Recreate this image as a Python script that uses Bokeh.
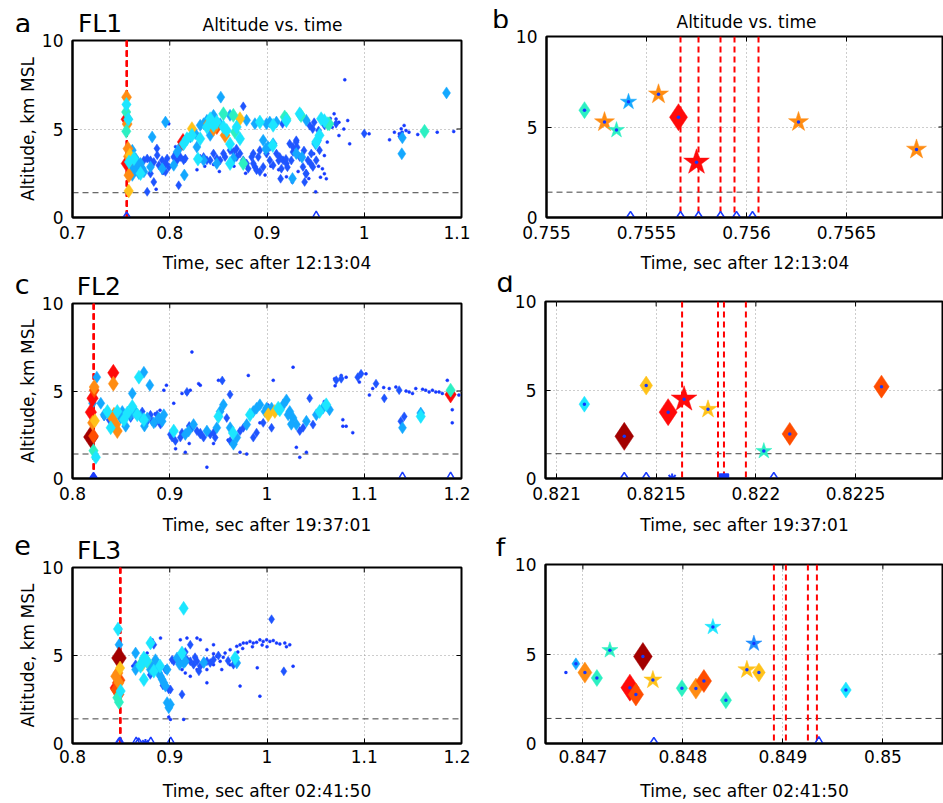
from bokeh.plotting import figure
from bokeh.models import Range1d, FixedTicker, Span, ColumnDataSource
from bokeh.layouts import column, row
from bokeh.core.properties import field, value
from bokeh.embed import file_html
from bokeh.resources import INLINE

FONT = "DejaVu Sans"
TICK_FS = "17px"

# ---------------- ticks ----------------
y_ticks = [0, 5, 10]
y_tick_labels = ["0", "5", "10"]
a_xticks = [0.7, 0.8, 0.9, 1.0, 1.1]
a_xlabels = ["0.7", "0.8", "0.9", "1", "1.1"]
ce_xticks = [0.8, 0.9, 1.0, 1.1, 1.2]
ce_xlabels = ["0.8", "0.9", "1", "1.1", "1.2"]
b_xticks = [0.755, 0.7555, 0.756, 0.7565]
b_xlabels = ["0.755", "0.7555", "0.756", "0.7565"]
d_xticks = [0.821, 0.8215, 0.822, 0.8225]
d_xlabels = ["0.821", "0.8215", "0.822", "0.8225"]
f_xticks = [0.847, 0.848, 0.849, 0.85]
f_xlabels = ["0.847", "0.848", "0.849", "0.85"]

ground_alt_km = 1.4

# ---------------- panel a (FL1 overview) ----------------
a_dot_x = [0.969, 0.971, 0.974, 0.979, 0.983, 0.985, 0.957, 0.959, 0.961, 0.955, 0.959, 0.962, 0.974, 1.005, 1.026, 1.031, 1.036, 1.038, 1.039, 1.041, 1.043, 1.046, 1.055, 1.075, 1.092, 0.980, 0.950, 0.797, 0.801, 0.805, 0.793, 0.786, 0.812, 0.836, 0.851, 0.866, 0.878, 0.898, 0.904, 0.912, 0.920, 0.926, 0.932, 0.943, 0.948, 0.953, 0.965, 0.967, 0.799, 0.806, 0.828, 0.845]
a_dot_y = [5.86, 5.57, 5.38, 5.00, 5.48, 4.16, 2.75, 2.47, 2.19, 2.28, 3.50, 4.26, 4.63, 4.73, 4.39, 4.82, 4.73, 5.01, 4.82, 5.20, 4.91, 4.82, 4.69, 4.82, 4.86, 7.78, 1.45, 3.00, 2.90, 3.60, 2.50, 1.60, 3.90, 2.90, 2.60, 2.90, 2.50, 2.40, 2.90, 2.70, 2.30, 2.00, 2.60, 2.20, 3.60, 2.90, 5.60, 5.10, 5.30, 4.00, 2.70, 3.00]
a_blue_x = [0.7734, 0.7768, 0.7802, 0.7836, 0.7871, 0.7888, 0.7922, 0.7956, 0.7973, 0.7990, 0.8041, 0.8075, 0.7768, 0.7836, 0.7802, 0.7956, 0.7868, 0.8109, 0.8143, 0.8160, 0.8313, 0.8348, 0.8382, 0.8416, 0.8518, 0.8569, 0.8654, 0.8688, 0.8722, 0.8756, 0.8790, 0.8807, 0.8842, 0.8859, 0.8876, 0.8893, 0.8927, 0.8961, 0.8995, 0.9029, 0.9097, 0.9131, 0.9165, 0.9199, 0.9233, 0.9267, 0.9336, 0.9370, 0.9387, 0.9404, 0.9421, 0.9455, 0.9472, 0.9506, 0.9540, 0.9591, 0.9710, 0.8756, 0.8552, 0.8620, 1.0000, 1.0375, 0.8092, 0.8859, 0.8910, 0.9063, 0.9148, 0.9267, 0.9301, 0.9029, 0.8927, 0.8686, 0.8450, 0.8484, 0.9485, 0.9195, 0.9250, 0.9300, 0.9380, 0.9400, 0.9450, 0.9530, 0.9470, 0.9440, 0.9160, 0.9140, 0.9120, 0.9210, 0.9310]
a_blue_y = [3.23, 3.33, 3.23, 3.14, 3.52, 2.95, 3.23, 3.05, 3.33, 2.86, 3.42, 3.23, 1.45, 2.01, 2.48, 2.58, 3.90, 3.42, 3.23, 3.33, 3.33, 3.42, 3.23, 3.23, 3.23, 3.42, 3.70, 3.42, 3.61, 3.23, 3.05, 2.76, 3.42, 3.61, 2.86, 2.67, 2.58, 2.86, 3.61, 3.98, 3.61, 3.42, 3.23, 3.05, 4.17, 3.98, 3.42, 2.86, 2.01, 2.48, 3.23, 3.61, 2.86, 3.23, 3.80, 5.21, 5.30, 6.28, 3.61, 3.80, 4.74, 4.59, 1.82, 3.05, 3.42, 2.95, 2.76, 3.70, 4.36, 3.23, 3.80, 3.89, 3.61, 3.33, 5.38, 3.31, 3.22, 4.26, 3.78, 2.47, 3.03, 4.91, 5.00, 5.19, 5.29, 2.19, 3.22, 2.84, 3.97]
a_lblue_x = [0.7615, 0.7666, 0.7683, 0.7700, 0.7717, 0.7649, 0.7802, 0.7819, 0.7922, 0.7956, 0.8041, 0.8075, 0.8109, 0.8211, 0.8262, 0.8279, 0.8313, 0.8348, 0.8382, 0.8450, 0.8518, 0.8525, 0.8620, 0.8790, 0.8876, 0.8961, 0.8995, 0.9029, 0.9063, 0.9097, 0.9301, 0.9359, 0.9404, 0.9500, 0.9520, 0.8484, 0.8654, 0.8416, 0.8348, 0.9262, 1.0392, 1.0386, 1.0846, 0.9010, 0.8150, 0.7632, 0.7666, 0.7734, 0.7598, 0.7615, 0.8988]
a_lblue_y = [3.80, 2.86, 2.48, 3.05, 2.76, 3.33, 2.86, 4.55, 2.76, 5.39, 2.95, 3.70, 4.00, 4.55, 4.74, 3.98, 5.21, 5.30, 5.49, 5.77, 5.30, 6.80, 5.77, 5.49, 5.30, 4.36, 5.30, 5.39, 4.17, 5.39, 3.61, 3.41, 5.49, 4.16, 4.35, 3.05, 3.33, 4.64, 3.23, 2.20, 4.50, 3.60, 7.04, 4.00, 2.40, 2.67, 3.14, 2.58, 3.00, 2.38, 3.87]
a_cyan_x = [0.7632, 0.7700, 0.8143, 0.8177, 0.8228, 0.8313, 0.8382, 0.8416, 0.8484, 0.8552, 0.8586, 0.8620, 0.8688, 0.8722, 0.8927, 0.9063, 0.9199, 0.9336, 0.9540, 0.9557, 0.9506, 0.8620, 0.8450, 0.9059, 0.7574, 0.7581, 0.7555, 0.8290, 0.9590]
a_cyan_y = [3.33, 2.48, 4.17, 4.45, 4.64, 4.45, 5.11, 5.58, 5.39, 5.11, 4.92, 3.05, 5.11, 4.45, 5.39, 5.21, 5.47, 5.86, 4.64, 5.58, 4.27, 4.15, 5.21, 4.07, 5.55, 3.14, 6.39, 3.30, 5.47]
a_aqua_x = [0.7552, 0.7553, 0.8552, 0.8654, 0.8671, 0.8756, 0.9182, 0.9350, 0.9200, 0.9625, 0.9640, 1.0620]
a_aqua_y = [5.96, 4.87, 5.86, 5.77, 4.83, 3.05, 5.68, 5.76, 5.57, 5.30, 5.29, 4.87]
a_yellow_x = [0.7578, 0.7590, 0.8228, 0.8722]
a_yellow_y = [1.50, 3.52, 5.02, 5.58]
a_orange_x = [0.7556, 0.7562, 0.7570, 0.7580, 0.7575, 0.8399, 0.8450, 0.8569]
a_orange_y = [6.80, 5.28, 3.89, 2.39, 3.45, 5.30, 5.02, 4.64]
a_redorange_x = [0.8484]
a_redorange_y = [5.11]
a_red_x = [0.7557, 0.7558, 0.8136]
a_red_y = [5.55, 3.05, 4.27]
a_bot_diamond = [0.7557]
a_bot_triangle = [0.9506]

# ---------------- panel b (FL1 zoom) ----------------
b_x = [0.75519, 0.75529, 0.75535, 0.75541, 0.75556, 0.75566, 0.75575, 0.75626, 0.75685]
b_y = [5.93, 5.27, 4.83, 6.39, 6.81, 5.54, 3.05, 5.28, 3.76]
b_shape = ["diamond", "star", "star", "star", "star", "diamond", "star", "star", "star"]
b_class = ["aqua", "orange", "aqua", "lblue", "orange", "red", "red", "orange", "orange"]
b_rs = [0.75567, 0.75576, 0.75587, 0.75594, 0.75606]
b_bot_diamond = [0.75542, 0.75567, 0.75576, 0.75587, 0.75595, 0.75603]

# ---------------- panel c (FL2 overview) ----------------
c_dot_x = [0.9228, 0.9501, 0.9808, 1.0268, 1.0064, 0.9314, 0.9297, 0.9211, 0.9126, 0.8966, 0.8939, 0.9041, 0.9177, 0.9382, 0.9927, 1.0780, 1.0882, 1.0695, 1.0763, 1.0814, 1.1018, 1.1087, 1.1257, 1.1325, 1.1462, 1.1496, 1.1530, 1.1632, 1.1667, 1.1701, 1.1735, 1.1769, 1.1803, 1.1854, 1.1905, 1.1905, 1.1973, 1.0302, 1.0337, 1.0405, 1.0814, 1.0780, 1.1053, 1.0950, 0.9348, 0.9791, 0.9723, 0.9160, 0.9060, 0.9200, 0.9450, 0.9600, 0.8900, 0.8850, 1.0010, 1.0590, 1.1430, 1.1600, 1.1200, 1.0700]
c_dot_y = [7.23, 5.61, 5.89, 6.36, 5.61, 5.33, 5.42, 5.05, 4.86, 5.33, 5.05, 4.30, 4.86, 0.65, 3.18, 2.99, 2.62, 5.70, 5.89, 5.79, 5.98, 5.14, 5.14, 5.23, 4.95, 4.86, 5.14, 5.05, 4.95, 5.05, 4.95, 4.95, 4.86, 5.61, 3.93, 3.18, 4.77, 1.78, 1.21, 1.50, 2.99, 3.36, 4.77, 5.51, 2.34, 1.40, 1.50, 1.50, 1.70, 2.00, 2.00, 2.20, 3.90, 3.70, 4.20, 4.40, 5.00, 5.10, 5.20, 5.30]
c_blue_x = [0.8325, 0.8376, 0.8598, 0.8717, 0.8802, 0.8870, 0.8853, 0.8819, 0.8905, 0.9007, 0.9024, 0.9058, 0.9109, 0.9228, 0.9280, 0.9314, 0.9416, 0.9450, 0.9586, 0.9723, 0.9757, 0.9961, 0.9893, 0.9859, 0.9655, 0.9621, 0.9467, 0.9348, 0.9314, 0.9126, 1.0337, 1.0371, 1.0439, 1.0473, 1.0047, 1.0712, 1.0763, 1.0933, 1.0967, 1.1121, 1.1206, 1.1359, 1.1376, 1.1411, 0.9177, 0.9620, 0.9540, 0.8290, 0.8760, 0.9200]
c_blue_y = [3.55, 3.36, 3.46, 3.83, 3.64, 3.64, 3.18, 3.27, 3.08, 2.52, 2.34, 2.15, 2.34, 2.90, 2.71, 2.52, 2.52, 2.62, 3.46, 2.71, 2.90, 3.18, 2.62, 2.34, 1.96, 2.15, 2.34, 2.34, 2.62, 2.62, 2.71, 2.90, 4.58, 3.08, 2.90, 5.61, 5.70, 5.79, 5.98, 5.42, 4.58, 5.05, 3.27, 3.55, 4.95, 4.80, 5.60, 4.30, 3.20, 3.00]
c_lblue_x = [0.8291, 0.8325, 0.8427, 0.8495, 0.8512, 0.8547, 0.8598, 0.8649, 0.8632, 0.8700, 0.8768, 0.8836, 0.8887, 0.8922, 0.8939, 0.8795, 0.8734, 0.8615, 0.9160, 0.9194, 0.9245, 0.9382, 0.9484, 0.9518, 0.9552, 0.9621, 0.9655, 0.9689, 0.9791, 0.9859, 0.9893, 0.9927, 0.9979, 0.9996, 1.0047, 1.0166, 1.0200, 1.0217, 1.0234, 1.0268, 1.0302, 1.0405, 1.0507, 1.0575, 1.0643, 1.0250, 1.1393, 1.1581, 0.8250, 0.8206, 0.8740]
c_lblue_y = [4.30, 3.64, 3.64, 3.46, 3.83, 2.99, 3.64, 3.74, 3.93, 3.55, 3.46, 3.18, 3.46, 3.27, 3.64, 5.33, 6.07, 4.86, 2.52, 2.71, 3.08, 2.71, 2.90, 3.83, 4.21, 2.90, 1.96, 2.34, 3.08, 3.83, 4.02, 4.21, 3.83, 4.02, 4.02, 4.21, 4.49, 3.64, 3.83, 3.46, 3.08, 3.27, 3.64, 4.02, 3.93, 3.10, 2.90, 3.74, 5.79, 4.30, 3.00]
c_cyan_x = [0.8359, 0.8393, 0.8461, 0.8529, 0.8564, 0.8615, 0.8666, 0.8683, 0.8734, 0.9041, 0.9501, 0.9825, 1.0115, 1.0132, 1.0541, 1.0609, 1.1581, 0.8240, 0.9650]
c_cyan_y = [3.83, 2.90, 3.83, 3.36, 3.74, 4.11, 3.64, 5.79, 3.36, 2.71, 3.55, 3.64, 4.02, 3.93, 3.83, 4.21, 3.55, 1.21, 2.60]
c_aqua_x = [0.8216, 1.1888]
c_aqua_y = [1.59, 5.05]
c_yellow_x = [1.0013, 1.0081, 0.8230]
c_yellow_y = [3.64, 3.83, 3.30]
c_orange_x = [0.8223, 0.8420, 0.8410, 0.8444, 0.8461, 0.8427, 0.8206]
c_orange_y = [5.23, 5.42, 3.46, 3.08, 2.71, 3.64, 3.18]
c_redorange_x = [0.8223, 0.8216]
c_redorange_y = [5.05, 2.43]
c_red_x = [0.8206, 0.8189, 0.8420, 1.1888]
c_red_y = [4.58, 3.79, 6.04, 4.80]
c_darkred_x = [0.8189]
c_darkred_y = [2.37]
c_bot_filled_diamond = [0.8216]
c_bot_triangle = [1.1393, 1.1888]

# ---------------- panel d (FL2 zoom) ----------------
d_x = [0.82114, 0.82134, 0.82145, 0.82156, 0.82164, 0.82176, 0.82204, 0.82217, 0.82263]
d_y = [4.20, 2.38, 5.25, 3.75, 4.48, 3.91, 1.55, 2.52, 5.19]
d_shape = ["diamond", "diamond", "diamond", "diamond", "star", "star", "star", "diamond", "diamond"]
d_class = ["cyan", "darkred", "yellow", "red", "red", "yellow", "aqua", "redorange", "redorange"]
d_rs = [0.82163, 0.82181, 0.82184, 0.82195]
d_bot_diamond = [0.82134, 0.82145, 0.82209]
d_bot_asterisk = [0.82158]
d_bot_square = [0.82184]

# ---------------- panel e (FL3 overview) ----------------
e_dot_x = [0.9382, 0.9450, 0.9484, 0.9518, 0.9569, 0.9621, 0.9689, 0.9723, 0.9757, 0.9791, 0.9825, 0.9859, 0.9893, 0.9927, 0.9961, 0.9996, 1.0030, 1.0064, 1.0098, 1.0132, 1.0183, 1.0234, 1.0268, 0.9723, 0.9927, 0.9450, 0.9535, 0.9314, 0.9280, 0.9177, 0.9109, 0.9655, 0.9621, 0.9382, 0.9160, 0.9382, 0.9280, 0.9126, 0.9211, 0.8905, 0.8819, 0.8768, 0.9007, 0.9143, 0.8990, 0.9850, 0.9750, 0.9950, 1.0000, 0.9550, 0.9450, 0.9700, 0.8620, 0.9900, 1.0200]
e_dot_y = [5.33, 5.61, 4.95, 4.67, 5.14, 5.33, 5.52, 5.61, 5.71, 5.71, 5.80, 5.71, 5.75, 5.89, 5.80, 5.89, 5.80, 5.85, 5.71, 5.66, 5.71, 5.61, 4.39, 3.26, 2.69, 4.48, 4.20, 5.89, 5.99, 5.99, 5.89, 4.76, 4.48, 3.45, 4.01, 4.20, 4.20, 4.20, 3.82, 5.99, 5.89, 5.14, 1.37, 1.37, 1.50, 5.50, 5.40, 5.60, 5.50, 4.90, 5.10, 5.20, 4.40, 4.30, 5.50]
e_blue_x = [0.8836, 0.8990, 0.9007, 0.9041, 0.9109, 0.9177, 0.9211, 0.9245, 0.9280, 0.9314, 0.9348, 0.9382, 0.9416, 0.9450, 0.9211, 0.9655, 1.0047, 1.0173, 0.9126, 0.8649, 0.8956, 0.9024, 0.9260, 0.9160, 0.8800, 0.8930, 0.9500, 0.9600, 0.9300]
e_blue_y = [5.61, 3.07, 3.07, 4.67, 4.58, 4.76, 4.67, 4.48, 4.67, 4.39, 4.58, 4.67, 4.58, 4.76, 5.61, 4.48, 7.06, 4.10, 2.79, 4.50, 4.20, 4.76, 4.90, 5.20, 3.90, 3.30, 5.00, 4.70, 4.10]
e_lblue_x = [0.8478, 0.8649, 0.8649, 0.8819, 0.8870, 0.8887, 0.8922, 0.8939, 0.8956, 0.8973, 0.8990, 0.9007, 0.8973, 0.9075, 0.9143, 0.9160, 0.9689, 0.8853, 0.8905, 0.8800, 0.9100, 0.9350]
e_lblue_y = [5.61, 5.14, 4.20, 4.39, 4.39, 4.01, 3.63, 3.45, 3.26, 2.32, 2.03, 2.22, 4.20, 4.86, 4.58, 4.67, 4.58, 4.76, 3.82, 4.20, 4.50, 4.60]
e_cyan_x = [0.8468, 0.8700, 0.8734, 0.8802, 0.8836, 0.8734, 0.9126, 0.9143, 0.9672, 0.8495, 0.8760, 0.8900]
e_cyan_y = [6.50, 4.39, 4.86, 5.71, 4.11, 3.63, 5.14, 7.68, 4.86, 2.98, 4.70, 4.40]
e_aqua_x = [0.8768, 0.8478, 0.8461, 0.8700]
e_aqua_y = [4.67, 2.35, 2.60, 4.50]
e_yellow_x = [0.8489, 0.8720]
e_yellow_y = [4.29, 4.50]
e_orange_x = [0.8468, 0.8444, 0.8478]
e_orange_y = [4.01, 3.82, 3.45]
e_redorange_x = [0.8461, 0.8478, 0.8444, 0.8489]
e_redorange_y = [3.45, 2.79, 3.07, 3.60]
e_red_x = [0.8444]
e_red_y = [3.16]
e_darkred_x = [0.8478]
e_darkred_y = [4.86]
e_bot_diamond = [0.8478, 0.8680]
e_bot_triangle = [0.8489, 0.8655, 0.8805, 0.9010]
e_bot_asterisk = [0.8750]

# ---------------- panel f (FL3 zoom) ----------------
f_x = [0.84693, 0.84702, 0.84714, 0.84727, 0.84747, 0.84753, 0.84760, 0.84770, 0.84799, 0.84813, 0.84821, 0.84830, 0.84843, 0.84864, 0.84871, 0.84876, 0.84963]
f_y = [4.45, 3.96, 3.66, 5.21, 3.12, 2.74, 4.86, 3.55, 3.09, 3.07, 3.49, 6.51, 2.42, 4.12, 5.58, 3.97, 2.99]
f_shape = ["diamond", "diamond", "diamond", "star", "diamond", "diamond", "diamond", "star", "diamond", "diamond", "diamond", "star", "diamond", "star", "star", "diamond", "diamond"]
f_class = ["lblue", "orange", "aqua", "aqua", "red", "redorange", "darkred", "yellow", "aqua", "orange", "redorange", "cyan", "aqua", "yellow", "mblue", "yellow", "cyan"]
f_lone_dot_x = [0.84683]
f_lone_dot_y = [3.97]
f_rs = [0.84891, 0.84903, 0.84925, 0.84934]
f_bot_diamond = [0.84771]
f_bot_triangle = [0.84936]

# ---------------- styles ----------------
COLOR = {"dot": "#1438ff", "blue": "#1f55ff", "lblue": "#14a8ff", "mblue": "#1e8cff",
         "cyan": "#1ce6ff", "aqua": "#2cf0c2", "yellow": "#ffc21a", "orange": "#ff8c12",
         "redorange": "#ff4d00", "red": "#ff0a0a", "darkred": "#a30000"}
DENSE_SIZE = {"dot": 3, "blue": 9, "lblue": 12, "cyan": 14, "aqua": 14, "yellow": 14,
              "orange": 15, "redorange": 15, "red": 17, "darkred": 22}
ZOOM_SIZE = {"diamond": {"darkred": 28, "red": 27, "redorange": 23, "orange": 21, "yellow": 19,
                         "aqua": 17, "cyan": 16, "lblue": 12, "mblue": 14},
             "star": {"red": 27, "orange": 21, "yellow": 19, "aqua": 17, "cyan": 17,
                      "lblue": 17, "mblue": 17}}
CLASS_ORDER = ["dot", "blue", "lblue", "red", "darkred", "redorange", "orange", "yellow", "aqua", "cyan"]
MARK_BLUE = "#1a3cff"
TOP_BORDER = 8


def make_panel(xr, xticks, xlabels, width, height, mb, fw, fh, xlabel, ylabel=None,
               s1=7, s2=12):
    left, right, top, bottom = mb
    p = figure(width=width, height=height, x_range=Range1d(*xr), y_range=Range1d(0, 10),
               output_backend="svg", toolbar_location=None, title=None, frame_align=False,
               min_border_left=left, min_border_right=right,
               min_border_top=top, min_border_bottom=bottom,
               background_fill_color="white", border_fill_color="white")
    p.outline_line_color = "black"
    p.outline_line_width = 2
    p.outline_line_alpha = 1
    xt = FixedTicker(ticks=xticks)
    yt = FixedTicker(ticks=y_ticks)
    xa = p.xaxis[0]
    ya = p.yaxis[0]
    xa.ticker = xt
    ya.ticker = yt
    xa.major_label_overrides = dict(zip(xticks, xlabels))
    ya.major_label_overrides = dict(zip(y_ticks, y_tick_labels))
    for ax in (xa, ya):
        ax.major_tick_in = 5
        ax.major_tick_out = 0
        ax.minor_tick_line_color = None
        ax.major_tick_line_color = "black"
        ax.axis_line_color = "black"
        ax.axis_line_width = 2
        ax.major_label_text_font = FONT
        ax.major_label_text_font_size = TICK_FS
        ax.major_label_text_color = "black"
        ax.axis_label_text_font = FONT
        ax.axis_label_text_font_size = TICK_FS
        ax.axis_label_text_font_style = "normal"
        ax.axis_label_text_color = "black"
    xa.major_label_standoff = s1
    ya.major_label_standoff = 9
    xa.axis_label = xlabel
    xa.axis_label_standoff = s2
    if ylabel:
        ya.axis_label = ylabel
        ya.axis_label_standoff = 1
    p.xgrid.ticker = xt
    p.ygrid.ticker = yt
    for g in (p.xgrid, p.ygrid):
        g.grid_line_color = "#9a9a9a"
        g.grid_line_dash = "1 3"
        g.grid_line_width = 1
    # mirrored inward ticks on the top and right edges of the box
    tick_dy = 5 * 10.0 / fh
    tick_dx = 5 * (xr[1] - xr[0]) / fw
    vis_x = [t for t in xticks if xr[0] < t < xr[1]]
    p.segment(x0=vis_x, y0=[10] * len(vis_x), x1=vis_x, y1=[10 - tick_dy] * len(vis_x),
              line_color="black", line_width=1)
    p.segment(x0=[xr[1]] * 3, y0=y_ticks, x1=[xr[1] - tick_dx] * 3, y1=y_ticks,
              line_color="black", line_width=1)
    p.add_layout(Span(location=ground_alt_km, dimension="width", line_color="#404040",
                      line_dash="6 4", line_width=1, level="underlay"))
    return p


def make_header(width, height, items):
    h = figure(width=width, height=height, x_range=Range1d(0, width), y_range=Range1d(height, 0),
               output_backend="svg", toolbar_location=None, title=None, frame_align=False,
               min_border=0, min_border_left=0, min_border_right=0,
               min_border_top=0, min_border_bottom=0,
               x_axis_location=None, y_axis_location=None,
               background_fill_color="white", border_fill_color="white")
    h.grid.visible = False
    h.outline_line_color = None
    for (x, base, text, size) in items:
        # the text glyph lands about 0.35 em below its anchor, so lift the anchor
        h.text(x=[x], y=[base - 0.35 * size], text=[text], text_font=value(FONT),
               text_font_size=value("%dpx" % size),
               text_align="center", text_baseline="alphabetic", text_color="black")
    return h


def add_rs_lines(p, rs, width):
    for t in rs:
        p.add_layout(Span(location=t, dimension="height", line_color="#ff0000",
                          line_dash="6 4", line_width=width, level="underlay"))


def draw_dense(p, groups):
    xs, ys, cs, ss, ms = [], [], [], [], []
    for cls in CLASS_ORDER:
        if cls not in groups:
            continue
        gx, gy = groups[cls]
        n = min(len(gx), len(gy))
        xs += list(gx[:n])
        ys += list(gy[:n])
        cs += [COLOR[cls]] * n
        ss += [DENSE_SIZE[cls]] * n
        ms += ["circle" if cls == "dot" else "diamond"] * n
    src = ColumnDataSource(dict(x=xs, y=ys, c=cs, s=ss, m=ms))
    p.scatter(x="x", y="y", source=src, marker=field("m"), size=field("s"),
              fill_color=field("c"), line_color=field("c"), line_width=0.5)


def draw_zoom(p, xs, ys, shapes, classes):
    cs = [COLOR[c] for c in classes]
    ss = [ZOOM_SIZE[s][c] for s, c in zip(shapes, classes)]
    src = ColumnDataSource(dict(x=xs, y=ys, c=cs, s=ss, m=shapes))
    p.scatter(x="x", y="y", source=src, marker=field("m"), size=field("s"),
              fill_color=field("c"), line_color=field("c"), line_width=0.5)
    p.scatter(x=xs, y=ys, marker="circle", size=3.5, fill_color=COLOR["dot"], line_color=None)


def bottom_marks(p, xs, marker, size, filled=False, lw=1.5):
    if not xs:
        return
    p.scatter(x=xs, y=[0] * len(xs), marker=marker, size=size,
              fill_color=MARK_BLUE if filled else None, line_color=MARK_BLUE, line_width=lw)


LEFT_W, RIGHT_W = 470, 473
LET = 27
FLS = 25
TTL = 17
T = TOP_BORDER

# ---- a ----  (row 1: y 0..275)
a_xr = (0.7, 1.1)
ha = make_header(LEFT_W, 32, [(22.5, 32, "a", LET), (99.5, 31.5, "FL1", FLS),
                              (272, 30, "Altitude vs. time", TTL)])
pa = make_panel(a_xr, a_xticks, a_xlabels, LEFT_W, 243, (72, 9, T, 58), 389, 177,
                "Time, sec after 12:13:04", "Altitude, km MSL", s1=8, s2=11)
add_rs_lines(pa, b_rs, 2)
draw_dense(pa, {"dot": (a_dot_x, a_dot_y), "blue": (a_blue_x, a_blue_y), "lblue": (a_lblue_x, a_lblue_y),
                "cyan": (a_cyan_x, a_cyan_y), "aqua": (a_aqua_x, a_aqua_y), "yellow": (a_yellow_x, a_yellow_y),
                "orange": (a_orange_x, a_orange_y), "redorange": (a_redorange_x, a_redorange_y),
                "red": (a_red_x, a_red_y)})
bottom_marks(pa, a_bot_diamond, "diamond", 11)
bottom_marks(pa, a_bot_triangle, "triangle", 11)

# ---- b ----
b_xr = (0.755, 0.756985)
hb = make_header(RIGHT_W, 28, [(30, 28, "b", LET), (276, 27.5, "Altitude vs. time", TTL)])
pb = make_panel(b_xr, b_xticks, b_xlabels, RIGHT_W, 247, (76, 0, T, 57), 397, 182,
                "Time, sec after 12:13:04", s1=8, s2=11)
add_rs_lines(pb, b_rs, 2)
draw_zoom(pb, b_x, b_y, b_shape, b_class)
bottom_marks(pb, b_bot_diamond, "diamond", 12)

# ---- c ----  (row 2: y 275..537)
c_xr = (0.8, 1.2)
hc = make_header(LEFT_W, 20, [(21.7, 18.3, "c", LET), (98.3, 19.3, "FL2", FLS)])
pc = make_panel(c_xr, ce_xticks, ce_xlabels, LEFT_W, 242, (72, 9, T, 55), 389, 179,
                "Time, sec after 19:37:01", "Altitude, km MSL", s1=8, s2=12)
add_rs_lines(pc, d_rs, 2)
draw_dense(pc, {"dot": (c_dot_x, c_dot_y), "blue": (c_blue_x, c_blue_y), "lblue": (c_lblue_x, c_lblue_y),
                "cyan": (c_cyan_x, c_cyan_y), "aqua": (c_aqua_x, c_aqua_y), "yellow": (c_yellow_x, c_yellow_y),
                "orange": (c_orange_x, c_orange_y), "redorange": (c_redorange_x, c_redorange_y),
                "red": (c_red_x, c_red_y), "darkred": (c_darkred_x, c_darkred_y)})
bottom_marks(pc, c_bot_filled_diamond, "diamond", 12, filled=True)
bottom_marks(pc, c_bot_triangle, "triangle", 11)

# ---- d ----
d_xr = (0.820945, 0.822941)
hd = make_header(RIGHT_W, 18, [(34.5, 16.5, "d", LET)])
pd_ = make_panel(d_xr, d_xticks, d_xlabels, RIGHT_W, 244, (75, 0, T, 55), 398, 181,
                 "Time, sec after 19:37:01", s1=8, s2=12)
add_rs_lines(pd_, d_rs, 2)
draw_zoom(pd_, d_x, d_y, d_shape, d_class)
bottom_marks(pd_, d_bot_diamond, "diamond", 12)
bottom_marks(pd_, d_bot_asterisk, "asterisk", 10, lw=2)
bottom_marks(pd_, d_bot_square, "square", 9, filled=True)

# ---- e ----  (row 3: y 537..803)
e_xr = (0.8, 1.2)
he = make_header(LEFT_W, 22, [(22, 16.7, "e", LET), (98.5, 21.7, "FL3", FLS)])
pe = make_panel(e_xr, ce_xticks, ce_xlabels, LEFT_W, 244, (72, 9, T, 59), 389, 177,
                "Time, sec after 02:41:50", "Altitude, km MSL", s1=6, s2=15)
add_rs_lines(pe, f_rs, 2)
draw_dense(pe, {"dot": (e_dot_x, e_dot_y), "blue": (e_blue_x, e_blue_y), "lblue": (e_lblue_x, e_lblue_y),
                "cyan": (e_cyan_x, e_cyan_y), "aqua": (e_aqua_x, e_aqua_y), "yellow": (e_yellow_x, e_yellow_y),
                "orange": (e_orange_x, e_orange_y), "redorange": (e_redorange_x, e_redorange_y),
                "red": (e_red_x, e_red_y), "darkred": (e_darkred_x, e_darkred_y)})
bottom_marks(pe, e_bot_diamond, "diamond", 11)
bottom_marks(pe, e_bot_triangle, "triangle", 11)
bottom_marks(pe, e_bot_asterisk, "asterisk", 9, lw=2)

# ---- f ----
f_xr = (0.846626, 0.850606)
hf = make_header(RIGHT_W, 19, [(30, 19, "f", LET)])
pf = make_panel(f_xr, f_xticks, f_xlabels, RIGHT_W, 247, (75, 0, T, 59), 398, 180,
                "Time, sec after 02:41:50", s1=6, s2=15)
add_rs_lines(pf, f_rs, 2)
draw_zoom(pf, f_x, f_y, f_shape, f_class)
pf.scatter(x=f_lone_dot_x, y=f_lone_dot_y, marker="circle", size=3.5, fill_color=COLOR["dot"], line_color=None)
bottom_marks(pf, f_bot_diamond, "diamond", 12)
bottom_marks(pf, f_bot_triangle, "triangle", 12)

layout = column(row(column(ha, pa), column(hb, pb)),
                row(column(hc, pc), column(hd, pd_)),
                row(column(he, pe), column(hf, pf)))
open("out.html", "w").write(file_html(layout, INLINE))
